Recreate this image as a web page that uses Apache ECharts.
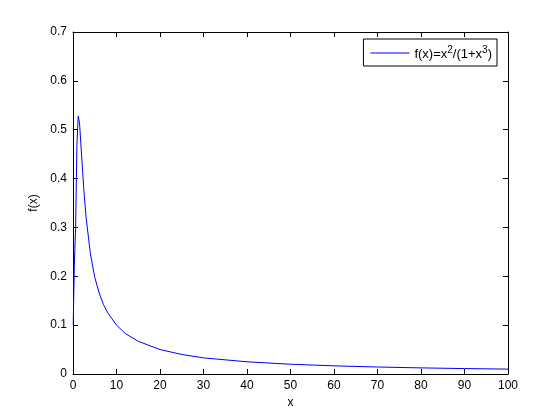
<!DOCTYPE html>
<html><head><meta charset="utf-8">
<script src="https://cdn.jsdelivr.net/npm/echarts@6/dist/echarts.min.js"></script>
<style>html,body{margin:0;padding:0;background:#fff}#c{width:560px;height:420px}</style>
</head><body><div id="c"></div>
<script>
var xValues = [0.05, 0.3, 0.6, 0.9, 1.2, 1.5, 2, 2.5, 3, 4, 5, 6, 7, 8, 10, 12, 15, 20, 25, 30, 40, 50, 60, 70, 80, 90, 100];
var yValues = [0.10, 0.22, 0.30, 0.468, 0.528, 0.514, 0.444, 0.376, 0.321, 0.246, 0.198, 0.166, 0.142, 0.125, 0.100, 0.083, 0.067, 0.050, 0.040, 0.033, 0.025, 0.020, 0.0167, 0.0143, 0.0125, 0.0111, 0.0100];
var xTicks = [0, 10, 20, 30, 40, 50, 60, 70, 80, 90, 100];
var yTicks = [0, 0.1, 0.2, 0.3, 0.4, 0.5, 0.6, 0.7];
var seriesName = 'f(x)=x^2/(1+x^3)';

var pts = xValues.map(function (x, i) { return [x, yValues[i]]; });
var font = 'Liberation Sans, Arial, sans-serif';
var chart = echarts.init(document.getElementById('c'), null, {renderer: 'canvas'});
var axisCommon = {
  axisLine: {show: true, onZero: false, lineStyle: {color: '#000', width: 1}},
  axisTick: {show: true, inside: true, length: 5, lineStyle: {color: '#000'}},
  splitLine: {show: false}
};
chart.setOption({
  backgroundColor: '#fff',
  animation: false,
  grid: {left: 73, right: 52, top: 32, bottom: 46, containLabel: false},
  legend: {
    show: true, right: 63, top: 39,
    borderColor: '#000', borderWidth: 1, backgroundColor: '#fff',
    padding: [6, 5, 5, 7], borderRadius: 0,
    icon: 'rect', itemWidth: 39, itemHeight: 1, itemGap: 4,
    data: [seriesName],
    formatter: function () { return '{a|f(x)=x}{s|2}{a|/(1+x}{s|3}{a|)}'; },
    textStyle: {
      color: '#000', fontFamily: font, fontSize: 13,
      rich: {
        a: {fontFamily: font, fontSize: 13, color: '#000', verticalAlign: 'bottom', lineHeight: 16},
        s: {fontFamily: font, fontSize: 10, color: '#000', verticalAlign: 'top', lineHeight: 16, padding: [0, 0, 6, 0]}
      }
    }
  },
  xAxis: [
    Object.assign({
      type: 'value', min: 0, max: 100, interval: 10, position: 'bottom',
      name: 'x', nameLocation: 'middle', nameGap: 20,
      nameTextStyle: {color: '#000', fontFamily: font, fontSize: 12},
      axisLabel: {color: '#000', fontFamily: font, fontSize: 12, margin: 6,
        formatter: function (v) { return xTicks.indexOf(v) >= 0 ? String(v) : ''; }}
    }, axisCommon),
    Object.assign({
      type: 'value', min: 0, max: 100, interval: 10, position: 'top',
      axisLabel: {show: false}
    }, axisCommon)
  ],
  yAxis: [
    Object.assign({
      type: 'value', min: 0, max: 0.7, interval: 0.1, position: 'left',
      name: 'f(x)', nameLocation: 'middle', nameGap: 33, nameRotate: 90,
      nameTextStyle: {color: '#000', fontFamily: font, fontSize: 12},
      axisLabel: {color: '#000', fontFamily: font, fontSize: 12, margin: 6,
        formatter: function (v) {
          var r = Math.round(v * 10) / 10;
          return yTicks.indexOf(r) >= 0 ? String(r) : '';
        }}
    }, axisCommon),
    Object.assign({
      type: 'value', min: 0, max: 0.7, interval: 0.1, position: 'right',
      axisLabel: {show: false}
    }, axisCommon)
  ],
  series: [{
    name: seriesName, type: 'line', xAxisIndex: 0, yAxisIndex: 0,
    data: pts, showSymbol: false, symbol: 'none', smooth: false,
    lineStyle: {color: '#0000ff', width: 1},
    itemStyle: {color: '#0000ff'}
  }]
});
</script></body></html>
